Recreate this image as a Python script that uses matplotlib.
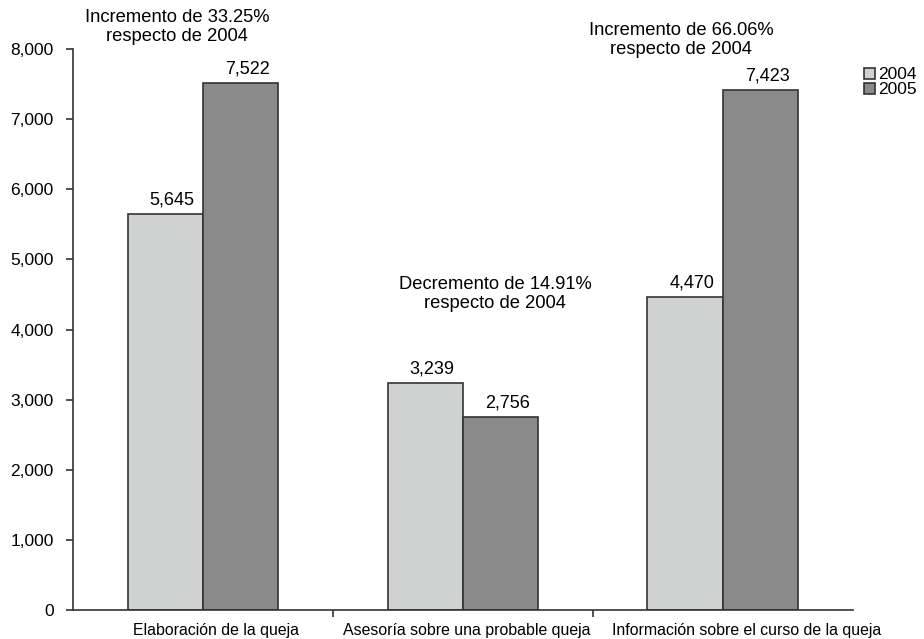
import numpy as np
import matplotlib
matplotlib.use('Agg')
import matplotlib.pyplot as plt

plt.rcParams['font.family'] = ['Liberation Sans', 'DejaVu Sans']

categorias = ['Elaboración de la queja', 'Asesoría sobre una probable queja',
              'Información sobre el curso de la queja']
v2004 = [5645, 3239, 4470]
v2005 = [7522, 2756, 7423]
notas = ['Incremento de 33.25%\nrespecto de 2004',
         'Decremento de 14.91%\nrespecto de 2004',
         'Incremento de 66.06%\nrespecto de 2004']

barWidth = 0.29
x = np.arange(len(categorias))

fig = plt.figure(figsize=(9.24, 6.39), dpi=100)
ax = fig.add_axes([0.079, 0.0454, 0.844, 0.8776])

b1 = ax.bar(x - barWidth/2, v2004, width=barWidth, color='#cfd2d0',
            edgecolor='#333333', linewidth=1.2, label='2004')
b2 = ax.bar(x + barWidth/2, v2005, width=barWidth, color='#8a8a8a',
            edgecolor='#333333', linewidth=1.2, label='2005')

for bars in (b1, b2):
    for r in bars:
        h = r.get_height()
        ax.text(r.get_x() + r.get_width()/2 + 0.025, h + 80, f'{h:,.0f}',
                ha='center', va='bottom', fontsize=13)

# notas de variacion
pos_notas = [(-0.1, 8060), (1.125, 4250), (1.84, 7870)]
for (px, py), t in zip(pos_notas, notas):
    ax.text(px, py, t, ha='center', va='bottom', fontsize=13.2,
            linespacing=1.15, clip_on=False)

ax.set_xlim(-0.5, 2.5)
ax.set_ylim(0, 8000)
ax.set_yticks(range(0, 8001, 1000))
ax.set_yticklabels([f'{v:,}' for v in range(0, 8001, 1000)], fontsize=12.5)
ax.set_xticks([0.5, 1.5])
ax.set_xticklabels([])
pos_cat = [0.05, 1.015, 2.09]
for px, c in zip(pos_cat, categorias):
    ax.text(px, -190, c, ha='center', va='top', fontsize=11.4)

ax.spines['top'].set_visible(False)
ax.spines['right'].set_visible(False)
ax.spines['left'].set_color('#333333')
ax.spines['bottom'].set_color('#333333')
ax.spines['left'].set_linewidth(1.2)
ax.spines['bottom'].set_linewidth(1.2)
ax.tick_params(axis='both', direction='out', length=5, color='#333333', width=1.2)
ax.tick_params(axis='y', pad=9)

leg = ax.legend(loc='upper left', bbox_to_anchor=(1.006, 0.98), frameon=False,
                fontsize=12.5, handlelength=0.6, handleheight=0.6,
                handletextpad=0.2, labelspacing=0.0, borderaxespad=0)

fig.savefig('out.png', dpi=100)
